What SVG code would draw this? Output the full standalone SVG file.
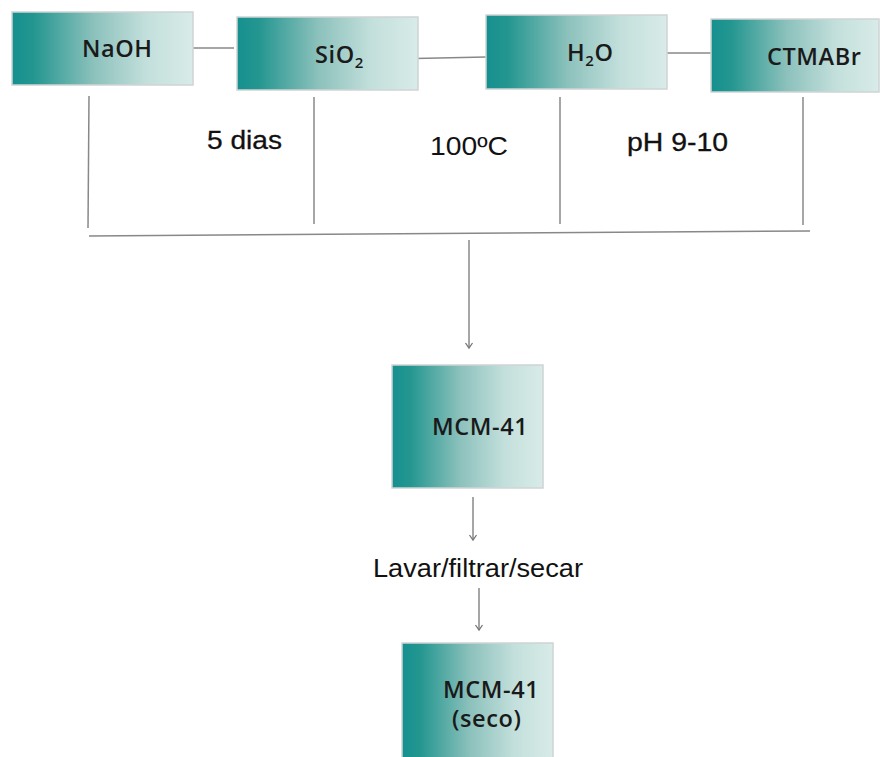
<svg xmlns="http://www.w3.org/2000/svg" width="880" height="757" viewBox="0 0 880 757">
<defs>
<linearGradient id="g" x1="0" y1="0" x2="1" y2="0">
<stop offset="0" stop-color="#15908f"/>
<stop offset="0.12" stop-color="#249690"/>
<stop offset="0.45" stop-color="#8cc1bc"/>
<stop offset="0.75" stop-color="#c4e0dc"/>
<stop offset="1" stop-color="#d8ebe8"/>
</linearGradient>
<marker id="ah" markerWidth="10" markerHeight="10" refX="8" refY="5" orient="auto" markerUnits="userSpaceOnUse">
<path d="M3,1.5 L8,5 L3,8.5" fill="none" stroke="#777" stroke-width="1.3"/>
</marker>
<style>
.box{fill:url(#g);stroke:#d0d4d4;stroke-width:1.5}
.bt{font-family:"Open Sans","Noto Sans",sans-serif;font-size:23.5px;font-weight:600;letter-spacing:0.6px;fill:#1a1a1a}
.lb{font-family:"Liberation Sans",Arial,sans-serif;font-size:25px;fill:#111}
.bd{stroke:#111;stroke-width:0.3}
.ln{stroke:#888;stroke-width:1.5;fill:none}
</style>
</defs>
<rect width="880" height="757" fill="#fff"/>
<g id="connectors">
<line class="ln" x1="168" y1="48" x2="234" y2="48"/>
<line class="ln" x1="391" y1="59" x2="486" y2="57"/>
<line class="ln" x1="633" y1="53" x2="714" y2="53"/>
<line class="ln" x1="89" y1="96" x2="88" y2="228"/>
<line class="ln" x1="314" y1="97" x2="314" y2="224"/>
<line class="ln" x1="560" y1="97" x2="560" y2="224"/>
<line class="ln" x1="803" y1="97" x2="803" y2="225"/>
<line class="ln" x1="89" y1="236" x2="810" y2="231"/>
<line class="ln" x1="469" y1="240" x2="469" y2="348" marker-end="url(#ah)"/>
<line class="ln" x1="473" y1="497" x2="473" y2="540" marker-end="url(#ah)"/>
<line class="ln" x1="479" y1="588" x2="479" y2="630" marker-end="url(#ah)"/>
</g>
<g id="naoh"><rect class="box" x="12" y="12" width="181" height="73"/><text class="bt" x="82" y="57">NaOH</text></g>
<g id="sio2"><rect class="box" x="237" y="17" width="181" height="73"/><text class="bt" x="315" y="63">SiO<tspan font-size="15" dy="5">2</tspan></text></g>
<g id="h2o"><rect class="box" x="486" y="15" width="181" height="74"/><text class="bt" x="567" y="61">H<tspan font-size="15" dy="5">2</tspan><tspan dy="-5">O</tspan></text></g>
<g id="ctmabr"><rect class="box" x="711" y="19" width="168" height="73"/><text class="bt" x="767" y="65">CTMABr</text></g>
<g id="labels">
<text class="lb bd" x="207" y="149" textLength="75" lengthAdjust="spacingAndGlyphs">5 dias</text>
<text class="lb" x="430" y="155" textLength="78" lengthAdjust="spacingAndGlyphs">100ºC</text>
<text class="lb bd" x="627" y="151" textLength="101" lengthAdjust="spacingAndGlyphs">pH 9-10</text>
<text class="lb" x="373" y="577" font-size="26" textLength="210" lengthAdjust="spacingAndGlyphs">Lavar/filtrar/secar</text>
</g>
<g id="mcm41"><rect class="box" x="392" y="365" width="151" height="123"/><text class="bt" x="432" y="435">MCM-41</text></g>
<g id="mcm41seco"><rect class="box" x="402" y="643" width="151" height="120"/><text class="bt" x="443" y="698">MCM-41</text><text class="bt" x="452" y="727">(seco)</text></g>
</svg>
